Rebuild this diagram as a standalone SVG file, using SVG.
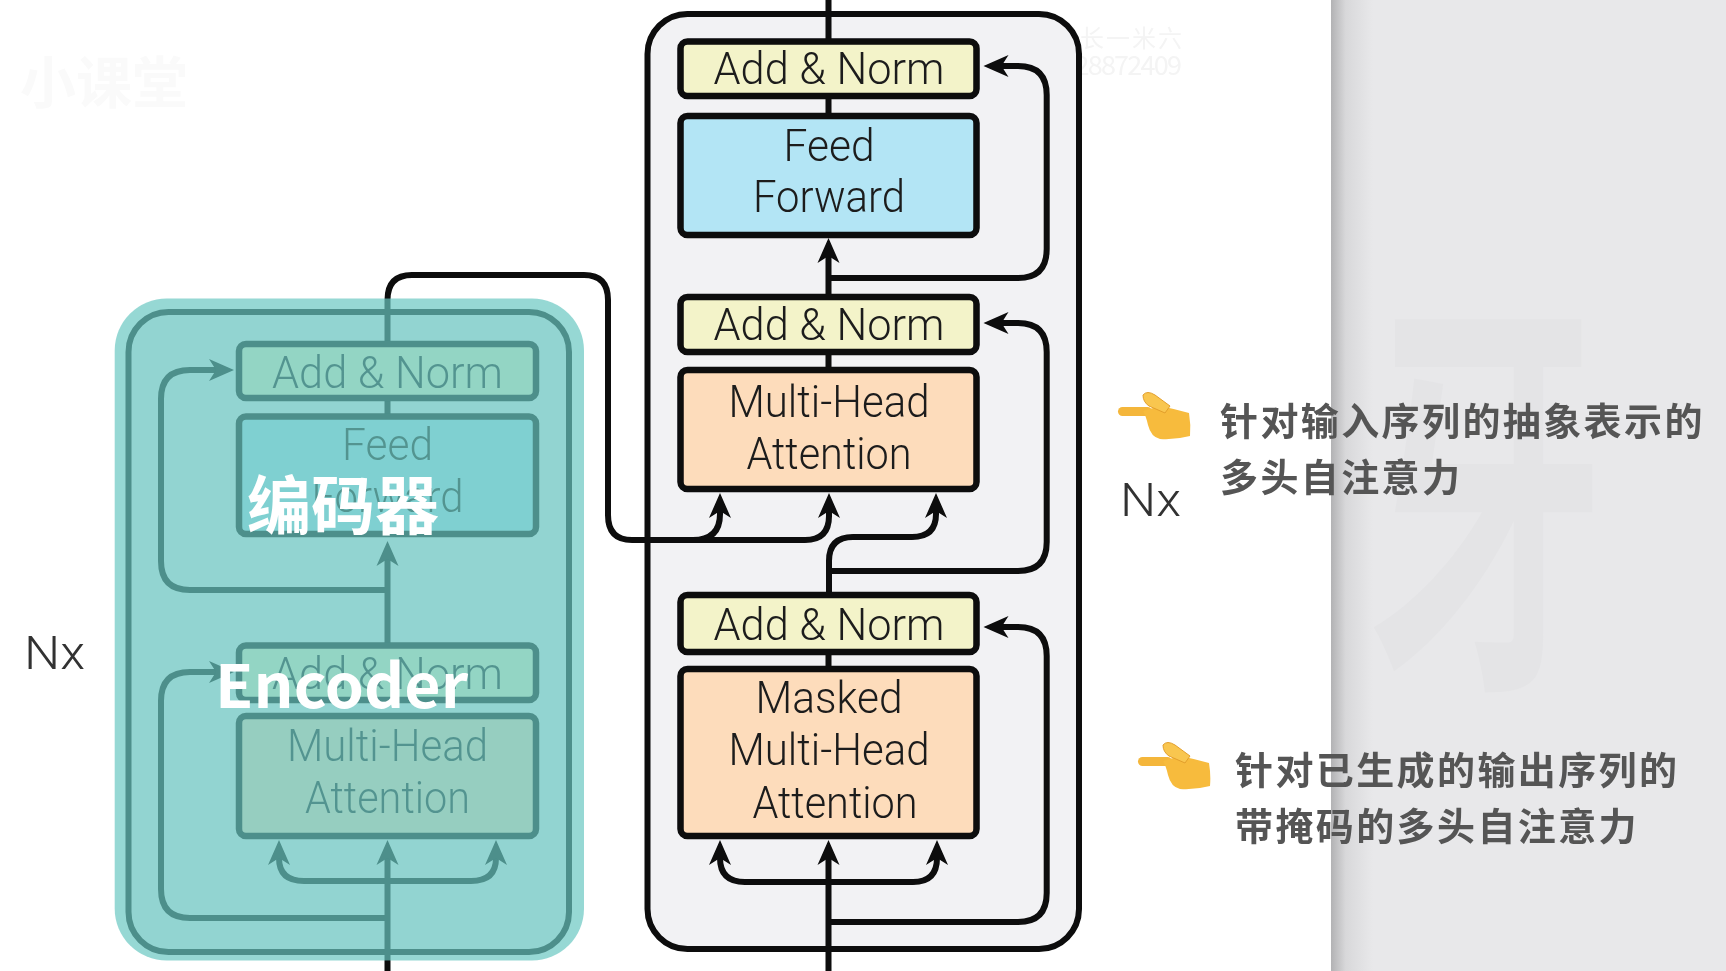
<svg xmlns="http://www.w3.org/2000/svg" width="1726" height="971" viewBox="0 0 1726 971">
  <style>
    .ln{fill:none;stroke:#0a0a0a;stroke-width:6}
    .ar{marker-end:url(#ah)}
    .frame{fill:#f2f2f4;stroke:#0a0a0a;stroke-width:6}
    .box{stroke:#0a0a0a;stroke-width:6.5}
    .yel{fill:#f3f3c9}
    .blu{fill:#b3e5f5}
    .ora{fill:#fddcbb}
    .t{font-family:"Roboto","Liberation Sans",Arial,sans-serif;font-weight:300;font-size:44px;fill:#1c1c1c;text-anchor:middle}
    .nx{font-family:"Roboto","Liberation Sans",Arial,sans-serif;font-weight:300;font-size:46px;fill:#333}
    .zh{font-family:"Noto Sans CJK SC",sans-serif;font-size:38px;font-weight:700;fill:#555;letter-spacing:2.4px}
    .cap{font-family:"Noto Sans CJK SC",sans-serif;font-weight:700;fill:#fff}
    .wm{font-family:"Noto Sans CJK SC",sans-serif}
    .dk{mix-blend-mode:darken}
  </style>
  <defs>
    <marker id="ah" markerUnits="userSpaceOnUse" markerWidth="28" markerHeight="24" viewBox="0 0 28 24" refX="15" refY="12" orient="auto">
      <path d="M26 12L1 1L8 12L1 23Z" fill="#0a0a0a"/>
    </marker>
    <linearGradient id="shade" x1="0" x2="1" y1="0" y2="0">
      <stop offset="0" stop-color="#b2b2b4"/>
      <stop offset=".35" stop-color="#d8d8da"/>
      <stop offset="1" stop-color="#e8e8ea"/>
    </linearGradient>
    <g id="hand">
      <rect x="13" y="27" width="34" height="9" rx="4.5" fill="#f4b63a"/>
      <path d="M38 31L55 26Q70 29 84 33Q86 45 85 56Q70 60 55 59Q46 57 43 45Q41 36 38 31Z" fill="#f7bb3c"/>
      <path d="M38 15Q42 10 50 15L65 26L60 33L44 26Q38 22 38 15Z" fill="#f9c64f" stroke="#e39f2c" stroke-width="1"/>
    </g>
    <filter id="soft" x="0" y="0" width="100%" height="100%"><feGaussianBlur stdDeviation="0.7"/></filter>
  </defs>
  <rect width="1726" height="971" fill="#fff"/>
  <g id="picture" filter="url(#soft)">
  <rect width="1726" height="971" fill="#fff"/>

  <g id="frames">
    <rect id="encoder-frame" class="frame" x="128.5" y="312" width="440.5" height="640" rx="40"/>
    <rect id="decoder-frame" class="frame" x="647.5" y="14" width="431.5" height="935" rx="40"/>
  </g>

  <g id="connectors">
    <path class="ln" d="M387.5 398V416"/>
    <path class="ln" d="M387.5 590H190Q161 590 161 561V399Q161 370 190 370H223" marker-end="url(#ah)"/>
    <path class="ln" d="M387.5 918H190Q161 918 161 889V701Q161 672 190 672H223" marker-end="url(#ah)"/>
    <path class="ln ar" d="M387.5 971V851"/>
    <path class="ln ar" d="M387.5 881H304Q279 881 279 858V851"/>
    <path class="ln ar" d="M387.5 881H471Q496 881 496 858V851"/>
    <path class="ln ar" d="M387.5 645V552"/>
    <path class="ln" d="M387.5 344V300Q387.5 275 412 275H584Q608 275 608 300V515Q608 540 632 540H805Q829 540 829 516V504" marker-end="url(#ah)"/>
    <path class="ln ar" d="M693 540Q720 540 720 514V504"/>
    <path class="ln ar" d="M829 595V561Q829 537 853 537H912Q936 537 936 514V504"/>
    <path class="ln" d="M828.5 0V41M828.5 96V116M828.5 352V370M828.5 652V669"/>
    <path class="ln ar" d="M828.5 297V249"/>
    <path class="ln ar" d="M828.5 278H1018Q1046.7 278 1046.7 249V95Q1046.7 66 1018 66H994.5"/>
    <path class="ln ar" d="M828.5 571H1018Q1046.7 571 1046.7 542V352Q1046.7 323 1018 323H994.5"/>
    <path class="ln ar" d="M828.5 922H1018Q1046.7 922 1046.7 893V656Q1046.7 627 1018 627H994.5"/>
    <path class="ln ar" d="M828.5 971V851"/>
    <path class="ln ar" d="M828.5 882H745Q720 882 720 858V851"/>
    <path class="ln ar" d="M828.5 882H913Q937 882 937 858V851"/>
  </g>

  <g id="enc-addnorm-top"><rect class="box yel" x="239" y="344" width="297" height="54" rx="7"/><text class="t" x="387.5" y="388" textLength="231" lengthAdjust="spacingAndGlyphs">Add &amp; Norm</text></g>
  <g id="enc-feedforward"><rect class="box blu" x="239" y="416.5" width="297" height="117.5" rx="7"/><text class="t" x="387.5" y="460" textLength="91" lengthAdjust="spacingAndGlyphs">Feed</text><text class="t" x="387.5" y="512" textLength="152" lengthAdjust="spacingAndGlyphs">Forward</text></g>
  <g id="enc-addnorm-bottom"><rect class="box yel" x="239" y="645.5" width="297" height="54.5" rx="7"/><text class="t" x="387.5" y="689" textLength="231" lengthAdjust="spacingAndGlyphs">Add &amp; Norm</text></g>
  <g id="enc-attention"><rect class="box ora" x="239" y="716" width="297" height="120" rx="7"/><text class="t" x="387.5" y="761" textLength="201" lengthAdjust="spacingAndGlyphs">Multi-Head</text><text class="t" x="387.5" y="813" textLength="165" lengthAdjust="spacingAndGlyphs">Attention</text></g>

  <g id="dec-addnorm-top"><rect class="box yel" x="680.5" y="41.5" width="296" height="54.5" rx="7"/><text class="t" x="829" y="84" textLength="231" lengthAdjust="spacingAndGlyphs">Add &amp; Norm</text></g>
  <g id="dec-feedforward"><rect class="box blu" x="680.5" y="116" width="296" height="119" rx="7"/><text class="t" x="829" y="161" textLength="91" lengthAdjust="spacingAndGlyphs">Feed</text><text class="t" x="829" y="212" textLength="152" lengthAdjust="spacingAndGlyphs">Forward</text></g>
  <g id="dec-addnorm-mid"><rect class="box yel" x="680.5" y="297" width="296" height="55" rx="7"/><text class="t" x="829" y="340" textLength="231" lengthAdjust="spacingAndGlyphs">Add &amp; Norm</text></g>
  <g id="dec-attention"><rect class="box ora" x="680.5" y="370" width="296" height="119" rx="7"/><text class="t" x="829" y="417" textLength="201" lengthAdjust="spacingAndGlyphs">Multi-Head</text><text class="t" x="829" y="469" textLength="165" lengthAdjust="spacingAndGlyphs">Attention</text></g>
  <g id="dec-addnorm-bottom"><rect class="box yel" x="680.5" y="595" width="296" height="57" rx="7"/><text class="t" x="829" y="640" textLength="231" lengthAdjust="spacingAndGlyphs">Add &amp; Norm</text></g>
  <g id="dec-masked-attention"><rect class="box ora" x="680.5" y="669" width="296" height="167" rx="7"/><text class="t" x="829" y="713" textLength="147" lengthAdjust="spacingAndGlyphs">Masked</text><text class="t" x="829" y="765" textLength="201" lengthAdjust="spacingAndGlyphs">Multi-Head</text><text class="t" x="835" y="818" textLength="165" lengthAdjust="spacingAndGlyphs">Attention</text></g>

  <g id="nx-left"><text class="nx" x="24" y="669" textLength="61" lengthAdjust="spacingAndGlyphs">Nx</text></g>
  <g id="nx-right"><text class="nx" x="1120" y="516" textLength="61" lengthAdjust="spacingAndGlyphs">Nx</text></g>

  <g id="encoder-highlight">
    <rect x="114.7" y="298.5" width="469.3" height="662" rx="52" fill="rgb(105,200,194)" fill-opacity=".7"/>
    <text class="cap" x="247" y="529" font-size="64">编码器</text>
    <text class="cap" x="215" y="708" font-size="60" textLength="253" lengthAdjust="spacingAndGlyphs">Encoder</text>
  </g>

  <g id="side-panel">
    <rect x="1331" y="0" width="395" height="971" fill="#e8e8ea"/>
    <rect x="1331" y="0" width="42" height="971" fill="url(#shade)"/>
    <text class="wm" transform="translate(1367 655) scale(.575 1)" font-size="415" font-weight="700" fill="#e4e4e6">牙</text>
  </g>

  <g id="watermarks">
    <text class="wm" x="20" y="103" font-size="56" font-weight="700" fill="#fafafa">小课堂</text>
    <text class="wm dk" x="1002" y="47" font-size="24" fill="#f4f4f4" textLength="180">笑谈学长一米六</text>
    <text class="wm dk" x="1048" y="75" font-size="27" fill="#f4f4f4" textLength="134">2728872409</text>
  </g>

  <g id="note-top">
    <use href="#hand" x="1105" y="380"/>
    <text class="zh" x="1220" y="435">针对输入序列的抽象表示的</text>
    <text class="zh" x="1220" y="491">多头自注意力</text>
  </g>
  <g id="note-bottom">
    <use href="#hand" x="1125" y="730"/>
    <text class="zh" x="1235" y="784">针对已生成的输出序列的</text>
    <text class="zh" x="1235" y="840">带掩码的多头自注意力</text>
  </g>
  </g>
</svg>
